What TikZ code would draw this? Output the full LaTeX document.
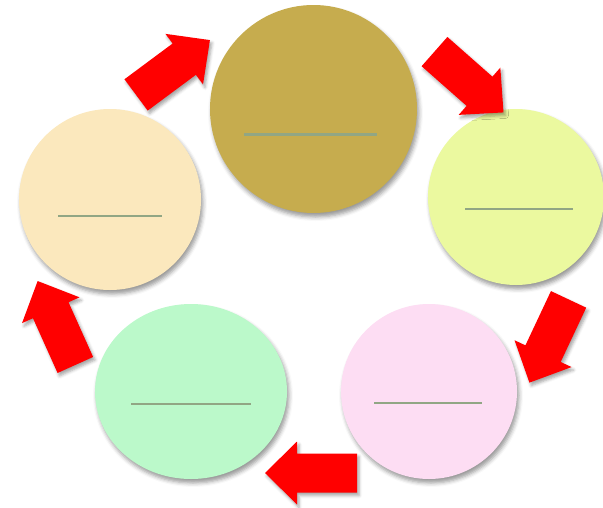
\documentclass[tikz,border=0pt]{standalone}
\usepackage{tikz}
\usetikzlibrary{shapes.geometric, shadows.blur}

\definecolor{goldfill}{RGB}{198,172,78}
\definecolor{limefill}{RGB}{235,249,159}
\definecolor{pinkfill}{RGB}{253,221,243}
\definecolor{mintfill}{RGB}{187,249,202}
\definecolor{creamfill}{RGB}{251,232,189}
\definecolor{blankline}{RGB}{145,166,132}

\begin{document}
\begin{tikzpicture}[x=1pt, y=-1pt,
  bubble/.style={ellipse, inner sep=0pt,
    blur shadow={shadow xshift=2pt, shadow yshift=-4pt, shadow blur radius=4pt, shadow opacity=40}},
  blank/.style={draw=blankline, line width=1.8pt},
  barrow/.style={fill=red,
    blur shadow={shadow xshift=2pt, shadow yshift=-3pt, shadow blur radius=3pt, shadow opacity=35}}
]
\useasboundingbox (0,0) rectangle (603,507);

% Draw the five circles
\node[bubble, fill=goldfill,  minimum width=207, minimum height=208] (top)      at (313.5,109)   {};
\node[bubble, fill=limefill,  minimum width=176, minimum height=176] (right)    at (516,197)     {};
\node[bubble, fill=pinkfill,  minimum width=176, minimum height=175] (botright) at (429,391.5)   {};
\node[bubble, fill=mintfill,  minimum width=192, minimum height=175] (botleft)  at (191,391.5)   {};
\node[bubble, fill=creamfill, minimum width=182, minimum height=181] (left)     at (110,199.5)   {};

% Blank text lines inside the circles
\draw[blank, line width=3pt] ([shift={(-69.5,25)}]top.center) -- ([shift={(63.5,25)}]top.center);
\foreach \n/\a/\b/\dy in {right/-51/57/12, botright/-55/53/11.5, botleft/-60/60/12.5, left/-52/52/16.5}{
  \draw[blank] ([shift={(\a,\dy)}]\n.center) -- ([shift={(\b,\dy)}]\n.center);
}

% Block arrows: centre x / centre y / direction
\foreach \cx/\cy/\ang in {173/67.5/36.6, 469/82/-41.4, 549/341/-115.2, 311/473/180, 56.5/323/114.2}{
  \fill[barrow, shift={(\cx,\cy)}, rotate=\ang]
    (-46,-19.5) -- (14,-19.5) -- (14,-31.5) -- (46,0) -- (14,31.5) -- (14,19.5) -- (-46,19.5) -- cycle;
}

\end{tikzpicture}
\end{document}
